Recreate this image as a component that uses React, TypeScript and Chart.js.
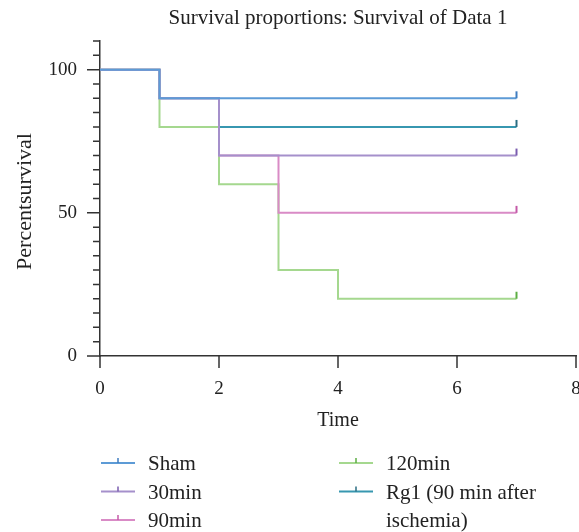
import React, { useEffect, useRef } from 'react';
import { Chart, registerables } from 'chart.js';

Chart.register(...registerables);

const TITLE = 'Survival proportions: Survival of Data 1';
const X_LABEL = 'Time';
const Y_LABEL = 'Percentsurvival';
const X_TICKS = [0, 2, 4, 6, 8];
const Y_TICKS = [0, 5, 10, 15, 20, 25, 30, 35, 40, 45, 50, 55, 60, 65, 70, 75, 80, 85, 90, 95, 100, 105, 110];
const Y_LABELED = [0, 50, 100];

const SERIES_NAMES = ['Sham', '30min', '90min', '120min', 'Rg1 (90 min after ischemia)'];
const SHAM_T = [0, 1, 7];
const SHAM_S = [100, 90, 90];
const MIN30_T = [0, 1, 2, 7];
const MIN30_S = [100, 90, 70, 70];
const MIN90_T = [0, 1, 2, 3, 7];
const MIN90_S = [100, 90, 70, 50, 50];
const MIN120_T = [0, 1, 2, 3, 4, 7];
const MIN120_S = [100, 80, 60, 30, 20, 20];
const RG1_T = [0, 1, 2, 7];
const RG1_S = [100, 90, 80, 80];

const LINE_COLORS = ['#5d9bd6', '#a590cb', '#d98bc6', '#a5d88f', '#3797b0'];
const MARK_COLORS = ['#3f7dc0', '#7a5caf', '#c45aa8', '#5cae43', '#2a6d82'];

const FONT = '"Liberation Serif", "Times New Roman", serif';
const TEXT_COLOR = '#222';
const AXIS_COLOR = '#333';

function makeTick(color: string): HTMLCanvasElement {
  const c = document.createElement('canvas');
  c.width = 4;
  c.height = 16;
  const g = c.getContext('2d')!;
  g.fillStyle = color;
  g.fillRect(1, 1, 2, 7);
  return c;
}

const survivalAxes = {
  id: 'survivalAxes',
  afterDraw(chart: any) {
    const { ctx, chartArea } = chart;
    const xs = chart.scales.x;
    const ys = chart.scales.y;
    ctx.save();
    ctx.strokeStyle = AXIS_COLOR;
    ctx.lineWidth = 1.5;
    ctx.beginPath();
    ys.ticks.forEach((t: any) => {
      const py = ys.getPixelForValue(t.value);
      const len = Y_LABELED.includes(t.value) ? 13 : 7;
      ctx.moveTo(chartArea.left - len, py);
      ctx.lineTo(chartArea.left, py);
    });
    xs.ticks.forEach((t: any) => {
      const px = xs.getPixelForValue(t.value);
      ctx.moveTo(px, chartArea.bottom);
      ctx.lineTo(px, chartArea.bottom + 12);
    });
    ctx.stroke();

    // x tick labels
    ctx.fillStyle = TEXT_COLOR;
    ctx.font = `19px ${FONT}`;
    ctx.textAlign = 'center';
    ctx.textBaseline = 'alphabetic';
    xs.ticks.forEach((t: any) => {
      ctx.fillText(String(t.value), xs.getPixelForValue(t.value), chartArea.bottom + 38);
    });

    // title
    ctx.font = `21px ${FONT}`;
    ctx.fillText(TITLE, (chartArea.left + chartArea.right) / 2, 24);

    // y axis title
    ctx.save();
    ctx.font = `22px ${FONT}`;
    ctx.translate(25, (chartArea.top + chartArea.bottom) / 2 + 3);
    ctx.rotate(-Math.PI / 2);
    ctx.textBaseline = 'middle';
    ctx.fillText(Y_LABEL, 0, 0);
    ctx.restore();

    // legend
    ctx.font = `21px ${FONT}`;
    ctx.textAlign = 'left';
    const rowH = 28.5;
    const colW = 238;
    const y0 = 463;
    SERIES_NAMES.forEach((name, i) => {
      const col = Math.floor(i / 3);
      const row = i % 3;
      const x0 = chartArea.left + 1 + col * colW;
      const y = y0 + row * rowH;
      ctx.strokeStyle = LINE_COLORS[i];
      ctx.lineWidth = 2;
      ctx.beginPath();
      ctx.moveTo(x0, y);
      ctx.lineTo(x0 + 34, y);
      ctx.stroke();
      ctx.strokeStyle = MARK_COLORS[i];
      ctx.lineWidth = 1.5;
      ctx.beginPath();
      ctx.moveTo(x0 + 17, y);
      ctx.lineTo(x0 + 17, y - 5);
      ctx.stroke();
      const words = name.split(' ');
      const lines: string[] = [];
      let cur = '';
      words.forEach((w) => {
        const test = cur ? cur + ' ' + w : w;
        if (ctx.measureText(test).width > 165 && cur) {
          lines.push(cur);
          cur = w;
        } else cur = test;
      });
      lines.push(cur);
      ctx.fillStyle = TEXT_COLOR;
      lines.forEach((ln, k) => ctx.fillText(ln, x0 + 47, y + 7 + k * rowH));
    });
    ctx.restore();
  },
};

function toPoints(t: number[], s: number[]) {
  return t.map((x, i) => ({ x, y: s[i] }));
}

export default function App() {
  const ref = useRef<HTMLCanvasElement>(null);
  useEffect(() => {
    document.body.style.margin = '0';
    const series = [
      toPoints(SHAM_T, SHAM_S),
      toPoints(MIN30_T, MIN30_S),
      toPoints(MIN90_T, MIN90_S),
      toPoints(MIN120_T, MIN120_S),
      toPoints(RG1_T, RG1_S),
    ];
    const chart = new Chart(ref.current!, {
      type: 'line',
      data: {
        datasets: series.map((pts, i) => ({
          label: SERIES_NAMES[i],
          data: pts,
          borderColor: LINE_COLORS[i],
          backgroundColor: LINE_COLORS[i],
          borderWidth: 2,
          stepped: 'before' as const,
          fill: false,
          pointStyle: makeTick(MARK_COLORS[i]) as any,
          pointRadius: (c: any) => (c.dataIndex === pts.length - 1 ? 6 : 0),
          pointHoverRadius: 0,
        })),
      },
      options: {
        responsive: false,
        animation: false,
        events: [],
        devicePixelRatio: 1,
        layout: { autoPadding: false, padding: { top: 41, right: 3, bottom: 99, left: 0 } },
        plugins: { legend: { display: false }, title: { display: false }, tooltip: { enabled: false } },
        scales: {
          x: {
            type: 'linear',
            min: 0,
            max: 8,
            afterBuildTicks: (s: any) => {
              s.ticks = X_TICKS.map((v) => ({ value: v }));
            },
            afterFit: (s: any) => {
              s.height = 77;
            },
            grid: { display: false, drawTicks: false },
            border: { display: true, color: AXIS_COLOR, width: 1.5 },
            ticks: { display: false },
            title: { display: true, text: X_LABEL, color: TEXT_COLOR, font: { family: FONT, size: 20 }, padding: { top: 0, bottom: 0 } },
          },
          y: {
            type: 'linear',
            min: 0,
            max: 110,
            afterBuildTicks: (s: any) => {
              s.ticks = Y_TICKS.map((v) => ({ value: v }));
            },
            afterFit: (s: any) => {
              s.width = 100;
            },
            grid: { display: false, drawTicks: false },
            border: { display: true, color: AXIS_COLOR, width: 1.5 },
            ticks: {
              color: TEXT_COLOR,
              font: { family: FONT, size: 19 },
              padding: 23,
              autoSkip: false,
              callback: (v: any) => (Y_LABELED.includes(Number(v)) ? String(v) : ''),
            },
            title: { display: false, text: Y_LABEL },
          },
        },
      },
      plugins: [survivalAxes],
    });
    return () => chart.destroy();
  }, []);
  return (
    <div style={{ width: 579, height: 532 }}>
      <canvas ref={ref} width={579} height={532} style={{ display: 'block' }} />
    </div>
  );
}
